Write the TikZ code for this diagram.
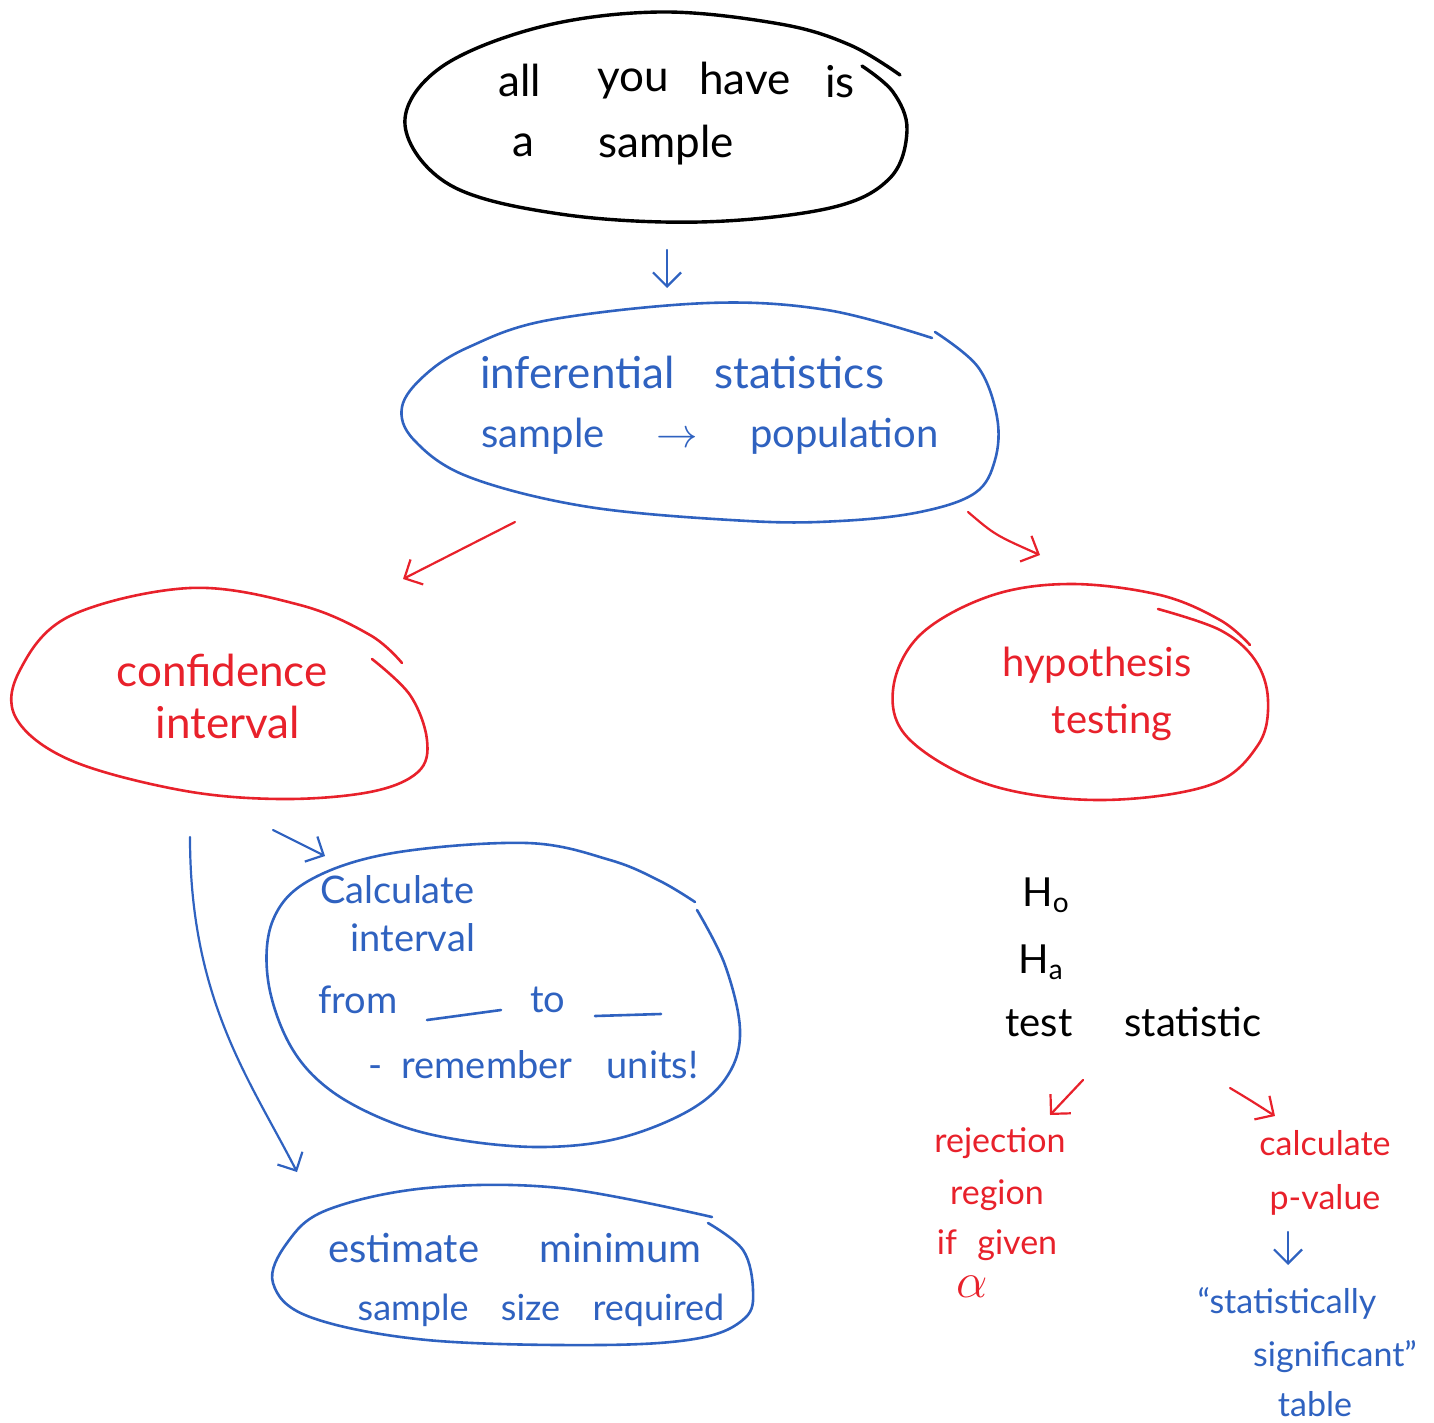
\documentclass[tikz,border=0pt]{standalone}
\usepackage{fontspec}
\setmainfont{Lato}
\usetikzlibrary{arrows.meta}
\definecolor{inkblue}{HTML}{2F62C0}
\definecolor{inkred}{HTML}{E8212B}
\begin{document}
\begin{tikzpicture}[x=0.5pt,y=-0.5pt,
  outline/.style={line width=1.3pt, line cap=round, line join=round},
  hand/.style={inner sep=0pt, font=\fontsize{20}{24}\selectfont},
  handbig/.style={inner sep=0pt, font=\fontsize{22}{26}\selectfont},
  handsmall/.style={inner sep=0pt, font=\fontsize{17}{20}\selectfont},
  arr/.style={line width=1.1pt, line cap=round, -{Straight Barb[length=7pt,width=14pt,line width=1.1pt]}},
  ]
\useasboundingbox (0,0) rectangle (1434,1423);

% ---------- top black blob ----------
\draw[outline, black, line width=1.7pt] plot[smooth, tension=0.6] coordinates {
  (862,66) (893,92) (907,130) (890,178) (830,208) (700,222) (560,214) (450,185)
  (405,125) (440,68) (540,27) (660,12) (780,24) (850,45) (900,75)};
\node[handbig] (w1) at (520,80) {all};
\node[handbig] (w2) at (633,84) {you};
\node[handbig] (w3) at (745,78) {have};
\node[handbig] (w4) at (840,82) {is};
\node[handbig] (w5) at (523,145) {a};
\node[handbig] (w6) at (666,145) {sample};

% arrow to inferential
\coordinate (a1s) at (667,250);
\coordinate (a1e) at (667,288);
\draw[arr, inkblue] (a1s) -- (a1e);

% ---------- inferential statistics ----------
\draw[outline, inkblue] plot[smooth, tension=0.6] coordinates {
  (935,332) (978,367) (997,417) (995,460) (975,493) (920,512) (840,521) (748,521) (589,507)
  (469,477) (414,440) (402,407) (425,375) (469,347) (549,320) (708,303) (827,310) (932,338)};
\node[handbig, text=inkblue] (t3) at (682,372) {inferential\hspace{0.9em}statistics};
\node[hand, text=inkblue] (t4) at (710,436) {sample\hspace{1.3em}$\rightarrow$\hspace{1.3em}population};

% arrows to CI / HT
\coordinate (a2s) at (515,522);
\coordinate (a2e) at (403,579);
\draw[arr, inkred] (a2s) -- (a2e);
\coordinate (a3s) at (968,512);
\coordinate (a3e) at (1040,555);
\draw[arr, inkred] (a3s) .. controls (995,535) .. (a3e);

% ---------- confidence interval ----------
\draw[outline, inkred] plot[smooth, tension=0.6] coordinates {
  (372,659) (410,695) (427,740) (418,772) (370,792) (280,799) (180,790) (70,760) (16,718)
  (20,670) (70,616) (190,588) (300,605) (370,635) (402,663)};
\node[handbig, text=inkred] (t5) at (222,670) {confidence};
\node[handbig, text=inkred] (t6) at (228,722) {interval};

% ---------- hypothesis testing ----------
\draw[outline, inkred] plot[smooth, tension=0.6] coordinates {
  (1158,609) (1220,630) (1255,660) (1268,700) (1258,745) (1210,785) (1100,800)
  (990,785) (910,740) (893,690) (920,635) (990,596) (1070,584) (1160,595) (1220,620) (1250,645)};
\node[hand, text=inkred] (t7) at (1097,665) {hypothesis};
\node[hand, text=inkred] (t8) at (1112,722) {testing};

% ---------- calculate interval ----------
\coordinate (a4s) at (273,830);
\coordinate (a4e) at (325,856);
\draw[arr, inkblue] (a4s) -- (a4e);
\draw[outline, inkblue] plot[smooth, tension=0.6] coordinates {
  (697,910) (725,965) (740,1030) (728,1075) (690,1110) (620,1138) (543,1147) (460,1140)
  (393,1123) (330,1090) (290,1045) (268,980) (273,920) (310,880) (393,853) (527,843)
  (610,860) (660,881) (695,902)};
\node[hand, text=inkblue, anchor=west, font=\fontsize{19}{22}\selectfont] (t9) at (320,890) {Calculate};
\node[hand, text=inkblue, anchor=west, font=\fontsize{19}{22}\selectfont] (t10) at (350,938) {interval};
\node[hand, text=inkblue, anchor=west, font=\fontsize{19}{22}\selectfont] (t11) at (318,1000) {from};
\coordinate (u1a) at (427,1020);
\coordinate (u1b) at (501,1010);
\draw[outline, inkblue] (u1a) -- (u1b);
\node[hand, text=inkblue, anchor=west, font=\fontsize{19}{22}\selectfont] (t12) at (530,1000) {to};
\coordinate (u2a) at (595,1016);
\coordinate (u2b) at (661,1014);
\draw[outline, inkblue] (u2a) -- (u2b);
\node[hand, text=inkblue, anchor=west, font=\fontsize{19}{22}\selectfont] (t13) at (368,1065) {-\hspace{0.5em}remember\hspace{0.9em}units!};

% ---------- long curved arrow ----------
\coordinate (a5s) at (190,837);
\coordinate (a5e) at (297,1172);
\draw[arr, inkblue] (a5s) .. controls (190,1000) and (250,1080) .. (a5e);

% ---------- sample size ----------
\draw[outline, inkblue] plot[smooth, tension=0.6] coordinates {
  (708,1223) (743,1250) (753,1290) (745,1318) (700,1338) (600,1345) (427,1340) (310,1317)
  (273,1283) (287,1243) (327,1210) (427,1188) (560,1188) (712,1217)};
\node[hand, text=inkblue] (t14) at (515,1248) {estimate\hspace{1.5em}minimum};
\node[hand, text=inkblue, font=\fontsize{18}{22}\selectfont] (t15) at (541,1310) {sample\hspace{0.9em}size\hspace{0.9em}required};

% ---------- hypotheses ----------
\node[hand, anchor=west] (h0) at (1022,895) {H$_\mathrm{o}$};
\node[hand, anchor=west] (ha) at (1018,962) {H$_\mathrm{a}$};
\node[hand, anchor=west] (ts) at (1005,1022) {test\hspace{1.3em}statistic};

\coordinate (a6s) at (1083,1080);
\coordinate (a6e) at (1050,1115);
\draw[arr, inkred] (a6s) -- (a6e);
\coordinate (a7s) at (1230,1088);
\coordinate (a7e) at (1275,1116);
\draw[arr, inkred] (a7s) .. controls (1250,1100) .. (a7e);

\node[handsmall, text=inkred] (r1) at (1000,1143) {rejection};
\node[handsmall, text=inkred] (r2) at (997,1195) {region};
\node[handsmall, text=inkred] (r3) at (997,1245) {if\hspace{0.6em}given};
\node[handsmall, text=inkred, font=\fontsize{24}{26}\selectfont] (r4) at (972,1287) {$\alpha$};

\node[handsmall, text=inkred] (c1) at (1325,1143) {calculate};
\node[handsmall, text=inkred] (c2) at (1325,1200) {p-value};

\coordinate (a8s) at (1288,1232);
\coordinate (a8e) at (1288,1265);
\draw[arr, inkblue] (a8s) -- (a8e);

\node[handsmall, text=inkblue] (s1) at (1287,1303) {“statistically};
\node[handsmall, text=inkblue] (s2) at (1335,1357) {significant”};
\node[handsmall, text=inkblue] (s3) at (1315,1404) {table};
\end{tikzpicture}
\end{document}
